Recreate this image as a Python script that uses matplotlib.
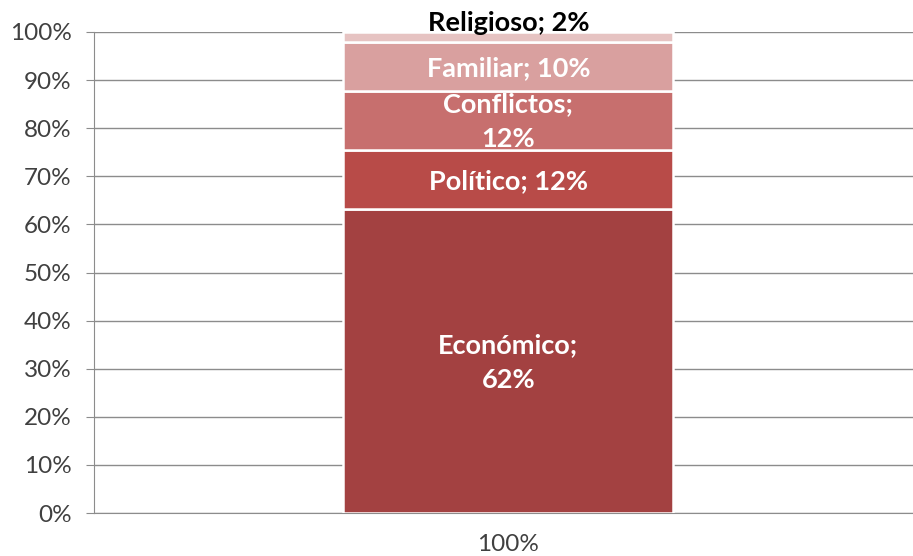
import matplotlib.pyplot as plt
import numpy as np

categories = ['Económico', 'Político', 'Conflictos', 'Familiar', 'Religioso']
values = [62, 12, 12, 10, 2]
labels = ['Económico;\n62%', 'Político; 12%', 'Conflictos;\n12%', 'Familiar; 10%', 'Religioso; 2%']
colors = ['#A34141', '#B84B48', '#C76F6E', '#D9A09F', '#E6C3C2']
x_label = '100%'

shares = np.array(values, dtype=float) / sum(values) * 100
bottoms = np.concatenate([[0], np.cumsum(shares)[:-1]])

fig = plt.figure(figsize=(9.13, 5.56), dpi=100)
ax = fig.add_axes([94 / 913, 43 / 556, 819 / 913, 481 / 556])

for share, bottom, color, label, cat in zip(shares, bottoms, colors, labels, categories):
    ax.bar(0.006, share, bottom=bottom, width=0.403, color=color,
           edgecolor='white', linewidth=1.8, zorder=3)
    if cat == 'Religioso':
        ax.text(0.006, bottom + share + 1.8, label, ha='center', va='center',
                color='black', fontsize=19.5, fontweight='bold',
                family='Lato', zorder=5)
    else:
        ax.text(0.006, bottom + share / 2 - 0.3, label, ha='center', va='center',
                color='white', fontsize=19.5, fontweight='bold',
                family='Lato', linespacing=1.55, zorder=5)

ax.set_xlim(-0.5, 0.5)
ax.set_ylim(0, 100)
ax.set_yticks(np.arange(0, 101, 10))
ax.set_yticklabels([f'{v}%' for v in range(0, 101, 10)])
ax.set_xticks([0.006])
ax.set_xticklabels([x_label])

ax.grid(axis='y', color='#8c8c8c', linewidth=1, zorder=0)
for side in ['top', 'right']:
    ax.spines[side].set_visible(False)
ax.spines['left'].set_color('#8c8c8c')
ax.spines['bottom'].set_color('#8c8c8c')
ax.tick_params(axis='y', length=6, color='#8c8c8c', labelsize=17.5,
               labelcolor='#404040', pad=10)
ax.tick_params(axis='x', length=0, labelsize=17.5, labelcolor='#404040', pad=15)
for lbl in ax.get_yticklabels() + ax.get_xticklabels():
    lbl.set_family('Lato')

fig.savefig('out.png', dpi=100)
